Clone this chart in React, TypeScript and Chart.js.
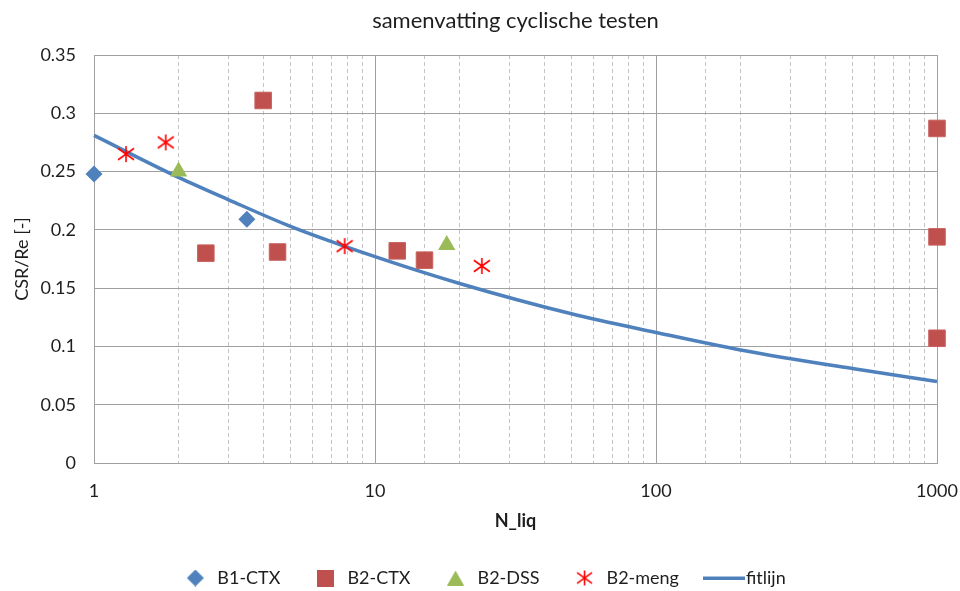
import React, { useEffect, useRef } from 'react';
import { Chart, registerables } from 'chart.js';

Chart.register(...registerables);

// ---- data ----
const seriesNames = ['B1-CTX', 'B2-CTX', 'B2-DSS', 'B2-meng', 'fitlijn'];

const b1ctxN = [1, 3.5];
const b1ctxCSR = [0.248, 0.209];

const b2ctxN = [2.5, 4, 4.5, 12, 15, 1000, 1000, 1000];
const b2ctxCSR = [0.18, 0.311, 0.181, 0.182, 0.174, 0.287, 0.194, 0.107];

const b2dssN = [2, 18];
const b2dssCSR = [0.25, 0.187];

const b2mengN = [1.3, 1.8, 7.8, 24];
const b2mengCSR = [0.265, 0.275, 0.186, 0.169];

const fitN = [1, 2, 3, 5, 10, 20, 50, 100, 200, 500, 1000];
const fitCSR = [0.281, 0.245, 0.226, 0.203, 0.177, 0.154, 0.128, 0.112, 0.097, 0.081, 0.07];

const xTickLabels = [1, 10, 100, 1000];
const yMin = 0;
const yMax = 0.35;
const yStep = 0.05;

const titleText = 'samenvatting cyclische testen';
const xTitle = 'N_liq';
const yTitle = 'CSR/Re [-]';

// ---- styles ----
const BLUE = '#4F81BD';
const RED = '#C0504D';
const GREEN = '#9BBB59';
const STAR = '#FF0000';
const MAJOR = '#A0A0A0';
const MINOR = '#C4C4C4';
const TEXT = '#1E1E1E';
const FONT = 'Lato, "Open Sans", sans-serif';

const toPts = (xs: number[], ys: number[]) => xs.map((x, i) => ({ x, y: ys[i] }));

function mkCanvas(w: number, h: number, draw: (ctx: CanvasRenderingContext2D) => void) {
  const c = document.createElement('canvas');
  c.width = w;
  c.height = h;
  const ctx = c.getContext('2d')!;
  draw(ctx);
  return c;
}

function asterisk(size: number) {
  return mkCanvas(size, size, (ctx) => {
    const c = size / 2;
    const r = size / 2 - 1;
    ctx.strokeStyle = STAR;
    ctx.lineWidth = 1.6;
    ctx.beginPath();
    ctx.moveTo(c, c - r);
    ctx.lineTo(c, c + r);
    ctx.moveTo(c - r, c - r * 0.72);
    ctx.lineTo(c + r, c + r * 0.72);
    ctx.moveTo(c - r, c + r * 0.72);
    ctx.lineTo(c + r, c - r * 0.72);
    ctx.stroke();
  });
}

function isDecade(v: any) {
  if (typeof v !== 'number' || v <= 0) return false;
  const l = Math.log10(v);
  return Math.abs(l - Math.round(l)) < 1e-9;
}

export default function App() {
  const ref = useRef<HTMLCanvasElement>(null);

  useEffect(() => {
    if (!ref.current) return;
    const starImg = asterisk(18);
    const legendIcons = [
      mkCanvas(17, 17, (ctx) => {
        ctx.fillStyle = BLUE;
        ctx.beginPath();
        ctx.moveTo(8.5, 0);
        ctx.lineTo(17, 8.5);
        ctx.lineTo(8.5, 17);
        ctx.lineTo(0, 8.5);
        ctx.closePath();
        ctx.fill();
      }),
      mkCanvas(17, 17, (ctx) => {
        ctx.fillStyle = RED;
        ctx.fillRect(0, 0, 17, 17);
      }),
      mkCanvas(17, 15, (ctx) => {
        ctx.fillStyle = GREEN;
        ctx.beginPath();
        ctx.moveTo(8.5, 0);
        ctx.lineTo(17, 15);
        ctx.lineTo(0, 15);
        ctx.closePath();
        ctx.fill();
      }),
      asterisk(17),
      mkCanvas(42, 4, (ctx) => {
        ctx.fillStyle = BLUE;
        ctx.fillRect(0, 0.5, 42, 3.5);
      }),
    ];

    const font = { family: FONT, size: 18 };

    const chart = new Chart(ref.current, {
      type: 'scatter',
      data: {
        datasets: [
          {
            label: seriesNames[0],
            data: toPts(b1ctxN, b1ctxCSR),
            pointStyle: 'rectRot',
            pointRadius: 8.5,
            backgroundColor: BLUE,
            borderColor: BLUE,
            borderWidth: 0,
            clip: false,
          },
          {
            label: seriesNames[1],
            data: toPts(b2ctxN, b2ctxCSR),
            pointStyle: 'rect',
            pointRadius: 11.7,
            backgroundColor: RED,
            borderColor: '#C8625F',
            borderWidth: 1,
            clip: false,
          },
          {
            label: seriesNames[2],
            data: toPts(b2dssN, b2dssCSR),
            pointStyle: 'triangle',
            pointRadius: 10,
            backgroundColor: GREEN,
            borderColor: GREEN,
            borderWidth: 0,
            clip: false,
          },
          {
            label: seriesNames[3],
            data: toPts(b2mengN, b2mengCSR),
            pointStyle: starImg as any,
            pointRadius: 9,
            backgroundColor: STAR,
            borderColor: STAR,
            clip: false,
          },
          {
            label: seriesNames[4],
            data: toPts(fitN, fitCSR),
            showLine: true,
            borderColor: BLUE,
            backgroundColor: BLUE,
            borderWidth: 3.5,
            pointRadius: 0,
            cubicInterpolationMode: 'monotone',
            clip: false,
          } as any,
        ],
      },
      options: {
        animation: false,
        responsive: false,
        layout: { padding: { left: 8, right: 0, top: 0, bottom: -6 } },
        plugins: {
          tooltip: { enabled: false },
          title: {
            display: true,
            fullSize: false,
            text: titleText,
            color: TEXT,
            font: { family: FONT, size: 22, weight: 'normal' },
            padding: { top: 7.3, bottom: 21.3 },
          },
          legend: {
            position: 'bottom',
            labels: {
              usePointStyle: true,
              pointStyleWidth: 26,
              boxHeight: 18,
              padding: 32,
              color: TEXT,
              font,
              generateLabels: (ch: any) => {
                const items = (Chart as any).defaults.plugins.legend.labels.generateLabels(ch);
                return items.map((it: any, i: number) => ({ ...it, pointStyle: legendIcons[i], rotation: 0 }));
              },
            },
          },
        },
        scales: {
          x: {
            type: 'logarithmic',
            position: 'bottom',
            min: 1,
            max: 1000,
            grid: {
              color: (c: any) => (isDecade(c.tick && c.tick.value) ? MAJOR : 'rgba(0,0,0,0)'),
              drawTicks: false,
              lineWidth: 1,
            },
            border: { display: true, color: MAJOR },
            ticks: {
              autoSkip: false,
              maxRotation: 0,
              padding: 17.7,
              color: TEXT,
              font,
              callback: (v: any) => (xTickLabels.includes(Number(v)) ? String(v) : ''),
            },
            title: {
              display: true,
              text: xTitle,
              color: TEXT,
              font: { family: FONT, size: 18, weight: 'bold' },
              padding: { top: 0, bottom: 5.2 },
            },
            afterFit: (s: any) => {
              s.height = 74;
              s.paddingLeft = 0;
              s.paddingRight = 0;
            },
          },
          x2: {
            type: 'logarithmic',
            position: 'bottom',
            min: 1,
            max: 1000,
            grid: {
              color: (c: any) => (isDecade(c.tick && c.tick.value) ? 'rgba(0,0,0,0)' : MINOR),
              drawTicks: false,
              lineWidth: 1,
            },
            border: { display: false, dash: [4, 3] },
            ticks: { display: false, autoSkip: false },
            afterFit: (s: any) => {
              s.height = 0;
              s.paddingLeft = 0;
              s.paddingRight = 0;
            },
          },
          y: {
            type: 'linear',
            position: 'left',
            min: yMin,
            max: yMax,
            grid: { color: MAJOR, drawTicks: false, lineWidth: 1 },
            border: { display: true, color: MAJOR },
            ticks: {
              stepSize: yStep,
              padding: 18,
              color: TEXT,
              font,
              callback: (v: any) => String(parseFloat(Number(v).toFixed(2))),
            },
            title: {
              display: true,
              text: yTitle,
              color: TEXT,
              font: { family: FONT, size: 18, weight: 'normal' },
              padding: { top: 3.2, bottom: 0 },
            },
            afterFit: (s: any) => {
              s.width = 86;
            },
          },
          y2: {
            type: 'linear',
            position: 'right',
            grid: { drawOnChartArea: false, drawTicks: false },
            border: { display: false },
            ticks: { display: false },
            afterFit: (s: any) => {
              s.width = 23;
            },
          },
        },
      } as any,
    });
    return () => chart.destroy();
  }, []);

  return (
    <div style={{ position: 'absolute', left: 0, top: 0, width: 960, height: 591, background: '#fff' }}>
      <canvas ref={ref} width={960} height={591} />
    </div>
  );
}
